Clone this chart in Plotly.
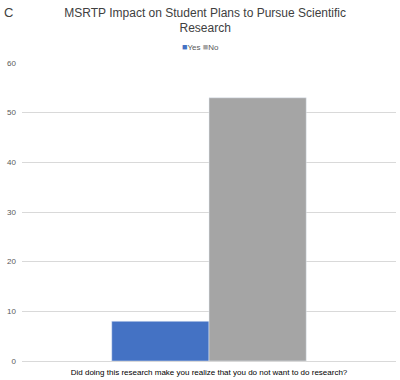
import plotly.graph_objects as go

categories = ["Did doing this research make you realize that you do not want to do research?"]
series_names = ["Yes", "No"]
yes_values = [8]
no_values = [53]
colors = ["#4472C4", "#A5A5A5"]
y_ticks = [0, 10, 20, 30, 40, 50, 60]

fig = go.Figure()
fig.add_trace(go.Bar(name=series_names[0], x=categories, y=yes_values, marker_color=colors[0], showlegend=False))
fig.add_trace(go.Bar(name=series_names[1], x=categories, y=no_values, marker_color=colors[1], showlegend=False))

fig.update_layout(
    width=400, height=380,
    margin=dict(l=22, r=4, t=63, b=19),
    paper_bgcolor="white", plot_bgcolor="white",
    font=dict(family="Liberation Sans, Arial, sans-serif", color="#595959", size=8),
    barmode="group", bargap=0.48, bargroupgap=0,
    title=dict(text="MSRTP Impact on Student Plans to Pursue Scientific<br>Research",
               x=0.513, xanchor="center", y=0.956, yanchor="top",
               font=dict(size=12, color="#404040")),
    showlegend=False,
)
fig.update_yaxes(range=[0, 60], tickvals=y_ticks, showgrid=True, gridcolor="#D9D9D9",
                 gridwidth=1, zeroline=False, showline=False, ticks="",
                 ticklabelstandoff=5, tickfont=dict(size=8, color="#595959"))
fig.update_xaxes(showline=True, linecolor="#D9D9D9", ticks="", ticklabelstandoff=3,
                 tickfont=dict(size=8, color="#000000"))

legend_text = "&nbsp;".join(
    f"<span style='color:{c};font-size:9px'>■</span>{n}" for n, c in zip(series_names, colors)
)
fig.add_annotation(text=legend_text, x=0.476, y=1.054, xref="paper", yref="paper",
                   xanchor="center", yanchor="middle", showarrow=False,
                   font=dict(size=8, color="#595959"))
fig.add_annotation(text="C", x=-0.035, y=1.171, xref="paper", yref="paper",
                   xanchor="center", yanchor="middle", showarrow=False,
                   font=dict(size=13, color="#404040"))

fig.write_html("out.html", config={"displayModeBar": False},
               post_script="document.body.style.margin='0';")
